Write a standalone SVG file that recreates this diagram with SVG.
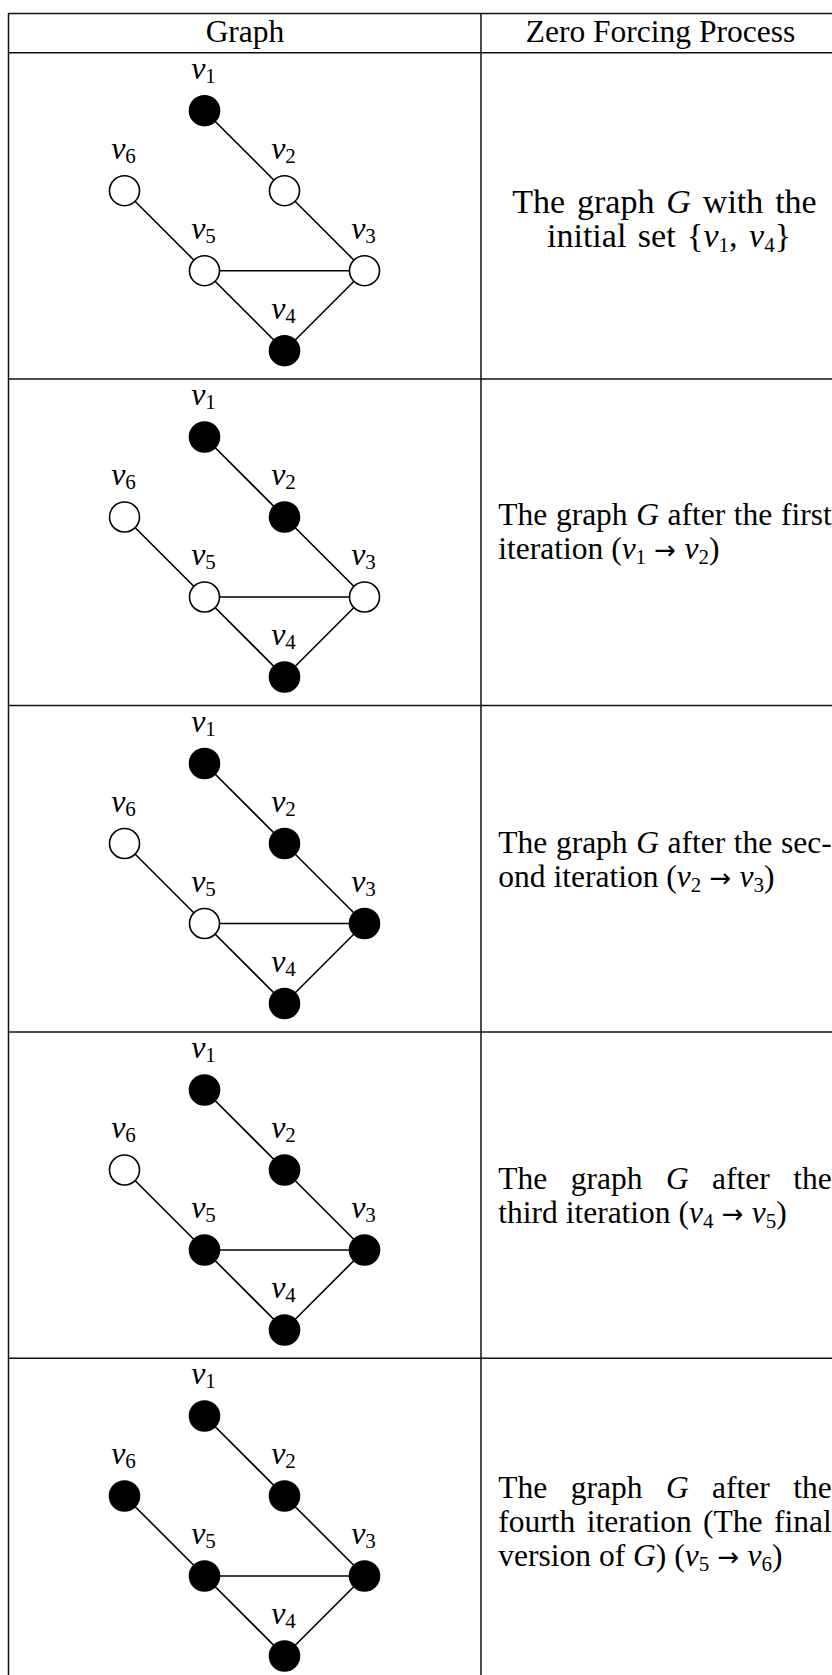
<svg xmlns="http://www.w3.org/2000/svg" width="832" height="1675" viewBox="0 0 832 1675">
<style>
.grid{stroke:#111;stroke-width:1.5;fill:none}
.edge{stroke:#000;stroke-width:1.6}
.w{fill:#fff;stroke:#000;stroke-width:1.6}
.b{fill:#000;stroke:#000;stroke-width:1.6}
.lbl{font-family:"Liberation Serif",serif;font-size:32px;text-anchor:middle}
.it{font-style:italic}
.sub{font-size:21px}
.txt{font-family:"Liberation Serif",serif;font-size:31.5px;fill:#000}
.big{font-size:34px}
.mid{text-anchor:middle}
.end{text-anchor:end}
.arr{font-family:"DejaVu Sans",sans-serif;font-size:26px}
</style>
<rect width="832" height="1675" fill="#fff"/>
<g id="table" class="grid">
<line x1="8.5" y1="13.5" x2="832" y2="13.5"/>
<line x1="8.5" y1="52.7" x2="832" y2="52.7"/>
<line x1="8.5" y1="379" x2="832" y2="379"/>
<line x1="8.5" y1="705.5" x2="832" y2="705.5"/>
<line x1="8.5" y1="1032" x2="832" y2="1032"/>
<line x1="8.5" y1="1358.3" x2="832" y2="1358.3"/>
<line x1="8.5" y1="13" x2="8.5" y2="1675"/>
<line x1="481" y1="13" x2="481" y2="1675"/>
</g>
<g id="header">
<text class="txt mid" x="245" y="42">Graph</text>
<text class="txt mid" x="660.5" y="42">Zero Forcing Process</text>
</g>
<g id="connectors">
<g transform="translate(0,0)">
<line class="edge" x1="204.5" y1="110.7" x2="284.5" y2="190.7"/>
<line class="edge" x1="284.5" y1="190.7" x2="364.5" y2="270.7"/>
<line class="edge" x1="124.5" y1="190.7" x2="204.5" y2="270.7"/>
<line class="edge" x1="204.5" y1="270.7" x2="364.5" y2="270.7"/>
<line class="edge" x1="204.5" y1="270.7" x2="284.5" y2="350.7"/>
<line class="edge" x1="284.5" y1="350.7" x2="364.5" y2="270.7"/>
</g>
<g transform="translate(0,326.3)">
<line class="edge" x1="204.5" y1="110.7" x2="284.5" y2="190.7"/>
<line class="edge" x1="284.5" y1="190.7" x2="364.5" y2="270.7"/>
<line class="edge" x1="124.5" y1="190.7" x2="204.5" y2="270.7"/>
<line class="edge" x1="204.5" y1="270.7" x2="364.5" y2="270.7"/>
<line class="edge" x1="204.5" y1="270.7" x2="284.5" y2="350.7"/>
<line class="edge" x1="284.5" y1="350.7" x2="364.5" y2="270.7"/>
</g>
<g transform="translate(0,652.8)">
<line class="edge" x1="204.5" y1="110.7" x2="284.5" y2="190.7"/>
<line class="edge" x1="284.5" y1="190.7" x2="364.5" y2="270.7"/>
<line class="edge" x1="124.5" y1="190.7" x2="204.5" y2="270.7"/>
<line class="edge" x1="204.5" y1="270.7" x2="364.5" y2="270.7"/>
<line class="edge" x1="204.5" y1="270.7" x2="284.5" y2="350.7"/>
<line class="edge" x1="284.5" y1="350.7" x2="364.5" y2="270.7"/>
</g>
<g transform="translate(0,979.3)">
<line class="edge" x1="204.5" y1="110.7" x2="284.5" y2="190.7"/>
<line class="edge" x1="284.5" y1="190.7" x2="364.5" y2="270.7"/>
<line class="edge" x1="124.5" y1="190.7" x2="204.5" y2="270.7"/>
<line class="edge" x1="204.5" y1="270.7" x2="364.5" y2="270.7"/>
<line class="edge" x1="204.5" y1="270.7" x2="284.5" y2="350.7"/>
<line class="edge" x1="284.5" y1="350.7" x2="364.5" y2="270.7"/>
</g>
<g transform="translate(0,1305.3)">
<line class="edge" x1="204.5" y1="110.7" x2="284.5" y2="190.7"/>
<line class="edge" x1="284.5" y1="190.7" x2="364.5" y2="270.7"/>
<line class="edge" x1="124.5" y1="190.7" x2="204.5" y2="270.7"/>
<line class="edge" x1="204.5" y1="270.7" x2="364.5" y2="270.7"/>
<line class="edge" x1="204.5" y1="270.7" x2="284.5" y2="350.7"/>
<line class="edge" x1="284.5" y1="350.7" x2="364.5" y2="270.7"/>
</g>
</g>
<g transform="translate(0,0)">
<g id="r1-v1"><circle class="b" cx="204.5" cy="110.7" r="15"/><text class="lbl" x="203.5" y="79.2"><tspan class="it">v</tspan><tspan class="sub" dy="4">1</tspan></text></g>
<g id="r1-v2"><circle class="w" cx="284.5" cy="190.7" r="15"/><text class="lbl" x="283.5" y="159.2"><tspan class="it">v</tspan><tspan class="sub" dy="4">2</tspan></text></g>
<g id="r1-v3"><circle class="w" cx="364.5" cy="270.7" r="15"/><text class="lbl" x="363.5" y="239.2"><tspan class="it">v</tspan><tspan class="sub" dy="4">3</tspan></text></g>
<g id="r1-v4"><circle class="b" cx="284.5" cy="350.7" r="15"/><text class="lbl" x="283.5" y="319.2"><tspan class="it">v</tspan><tspan class="sub" dy="4">4</tspan></text></g>
<g id="r1-v5"><circle class="w" cx="204.5" cy="270.7" r="15"/><text class="lbl" x="203.5" y="239.2"><tspan class="it">v</tspan><tspan class="sub" dy="4">5</tspan></text></g>
<g id="r1-v6"><circle class="w" cx="124.5" cy="190.7" r="15"/><text class="lbl" x="123.5" y="159.2"><tspan class="it">v</tspan><tspan class="sub" dy="4">6</tspan></text></g>
</g>
<g transform="translate(0,326.3)">
<g id="r2-v1"><circle class="b" cx="204.5" cy="110.7" r="15"/><text class="lbl" x="203.5" y="79.2"><tspan class="it">v</tspan><tspan class="sub" dy="4">1</tspan></text></g>
<g id="r2-v2"><circle class="b" cx="284.5" cy="190.7" r="15"/><text class="lbl" x="283.5" y="159.2"><tspan class="it">v</tspan><tspan class="sub" dy="4">2</tspan></text></g>
<g id="r2-v3"><circle class="w" cx="364.5" cy="270.7" r="15"/><text class="lbl" x="363.5" y="239.2"><tspan class="it">v</tspan><tspan class="sub" dy="4">3</tspan></text></g>
<g id="r2-v4"><circle class="b" cx="284.5" cy="350.7" r="15"/><text class="lbl" x="283.5" y="319.2"><tspan class="it">v</tspan><tspan class="sub" dy="4">4</tspan></text></g>
<g id="r2-v5"><circle class="w" cx="204.5" cy="270.7" r="15"/><text class="lbl" x="203.5" y="239.2"><tspan class="it">v</tspan><tspan class="sub" dy="4">5</tspan></text></g>
<g id="r2-v6"><circle class="w" cx="124.5" cy="190.7" r="15"/><text class="lbl" x="123.5" y="159.2"><tspan class="it">v</tspan><tspan class="sub" dy="4">6</tspan></text></g>
</g>
<g transform="translate(0,652.8)">
<g id="r3-v1"><circle class="b" cx="204.5" cy="110.7" r="15"/><text class="lbl" x="203.5" y="79.2"><tspan class="it">v</tspan><tspan class="sub" dy="4">1</tspan></text></g>
<g id="r3-v2"><circle class="b" cx="284.5" cy="190.7" r="15"/><text class="lbl" x="283.5" y="159.2"><tspan class="it">v</tspan><tspan class="sub" dy="4">2</tspan></text></g>
<g id="r3-v3"><circle class="b" cx="364.5" cy="270.7" r="15"/><text class="lbl" x="363.5" y="239.2"><tspan class="it">v</tspan><tspan class="sub" dy="4">3</tspan></text></g>
<g id="r3-v4"><circle class="b" cx="284.5" cy="350.7" r="15"/><text class="lbl" x="283.5" y="319.2"><tspan class="it">v</tspan><tspan class="sub" dy="4">4</tspan></text></g>
<g id="r3-v5"><circle class="w" cx="204.5" cy="270.7" r="15"/><text class="lbl" x="203.5" y="239.2"><tspan class="it">v</tspan><tspan class="sub" dy="4">5</tspan></text></g>
<g id="r3-v6"><circle class="w" cx="124.5" cy="190.7" r="15"/><text class="lbl" x="123.5" y="159.2"><tspan class="it">v</tspan><tspan class="sub" dy="4">6</tspan></text></g>
</g>
<g transform="translate(0,979.3)">
<g id="r4-v1"><circle class="b" cx="204.5" cy="110.7" r="15"/><text class="lbl" x="203.5" y="79.2"><tspan class="it">v</tspan><tspan class="sub" dy="4">1</tspan></text></g>
<g id="r4-v2"><circle class="b" cx="284.5" cy="190.7" r="15"/><text class="lbl" x="283.5" y="159.2"><tspan class="it">v</tspan><tspan class="sub" dy="4">2</tspan></text></g>
<g id="r4-v3"><circle class="b" cx="364.5" cy="270.7" r="15"/><text class="lbl" x="363.5" y="239.2"><tspan class="it">v</tspan><tspan class="sub" dy="4">3</tspan></text></g>
<g id="r4-v4"><circle class="b" cx="284.5" cy="350.7" r="15"/><text class="lbl" x="283.5" y="319.2"><tspan class="it">v</tspan><tspan class="sub" dy="4">4</tspan></text></g>
<g id="r4-v5"><circle class="b" cx="204.5" cy="270.7" r="15"/><text class="lbl" x="203.5" y="239.2"><tspan class="it">v</tspan><tspan class="sub" dy="4">5</tspan></text></g>
<g id="r4-v6"><circle class="w" cx="124.5" cy="190.7" r="15"/><text class="lbl" x="123.5" y="159.2"><tspan class="it">v</tspan><tspan class="sub" dy="4">6</tspan></text></g>
</g>
<g transform="translate(0,1305.3)">
<g id="r5-v1"><circle class="b" cx="204.5" cy="110.7" r="15"/><text class="lbl" x="203.5" y="79.2"><tspan class="it">v</tspan><tspan class="sub" dy="4">1</tspan></text></g>
<g id="r5-v2"><circle class="b" cx="284.5" cy="190.7" r="15"/><text class="lbl" x="283.5" y="159.2"><tspan class="it">v</tspan><tspan class="sub" dy="4">2</tspan></text></g>
<g id="r5-v3"><circle class="b" cx="364.5" cy="270.7" r="15"/><text class="lbl" x="363.5" y="239.2"><tspan class="it">v</tspan><tspan class="sub" dy="4">3</tspan></text></g>
<g id="r5-v4"><circle class="b" cx="284.5" cy="350.7" r="15"/><text class="lbl" x="283.5" y="319.2"><tspan class="it">v</tspan><tspan class="sub" dy="4">4</tspan></text></g>
<g id="r5-v5"><circle class="b" cx="204.5" cy="270.7" r="15"/><text class="lbl" x="203.5" y="239.2"><tspan class="it">v</tspan><tspan class="sub" dy="4">5</tspan></text></g>
<g id="r5-v6"><circle class="b" cx="124.5" cy="190.7" r="15"/><text class="lbl" x="123.5" y="159.2"><tspan class="it">v</tspan><tspan class="sub" dy="4">6</tspan></text></g>
</g>
<g id="desc1" class="txt">
<text class="mid big" x="664.5" y="213" word-spacing="3.4">The graph <tspan class="it">G</tspan> with the</text>
<text class="mid big" x="669" y="247" word-spacing="3">initial set {<tspan class="it">v</tspan><tspan class="sub" dy="5">1</tspan><tspan dy="-5">, </tspan><tspan class="it">v</tspan><tspan class="sub" dy="5">4</tspan><tspan dy="-5">}</tspan></text>
</g>
<g id="desc2" class="txt">
<text y="525"><tspan x="498.3">The</tspan><tspan x="555.9">graph</tspan><tspan x="636.2" class="it">G</tspan><tspan x="667.5">after</tspan><tspan x="733.8">the</tspan></text>
<text class="end" x="831.7" y="525">first</text>
<text x="498.3" y="559">iteration (<tspan class="it">v</tspan><tspan class="sub" dy="5">1</tspan><tspan dy="-5" class="arr"> → </tspan><tspan class="it">v</tspan><tspan class="sub" dy="5">2</tspan><tspan dy="-5">)</tspan></text>
</g>
<g id="desc3" class="txt">
<text y="853"><tspan x="498.3">The</tspan><tspan x="555.9">graph</tspan><tspan x="636.2" class="it">G</tspan><tspan x="667.5">after</tspan><tspan x="733.8">the</tspan></text>
<text class="end" x="831.7" y="853">sec-</text>
<text x="498.3" y="887">ond iteration (<tspan class="it">v</tspan><tspan class="sub" dy="5">2</tspan><tspan dy="-5" class="arr"> → </tspan><tspan class="it">v</tspan><tspan class="sub" dy="5">3</tspan><tspan dy="-5">)</tspan></text>
</g>
<g id="desc4" class="txt">
<text y="1189"><tspan x="498.3">The</tspan><tspan x="570.8">graph</tspan><tspan x="665.9" class="it">G</tspan><tspan x="712.1">after</tspan></text>
<text class="end" x="831.7" y="1189">the</text>
<text x="498.3" y="1223">third iteration (<tspan class="it">v</tspan><tspan class="sub" dy="5">4</tspan><tspan dy="-5" class="arr"> → </tspan><tspan class="it">v</tspan><tspan class="sub" dy="5">5</tspan><tspan dy="-5">)</tspan></text>
</g>
<g id="desc5" class="txt">
<text y="1498"><tspan x="498.3">The</tspan><tspan x="570.8">graph</tspan><tspan x="665.9" class="it">G</tspan><tspan x="712.1">after</tspan></text>
<text class="end" x="831.7" y="1498">the</text>
<text y="1532"><tspan x="498.3">fourth</tspan><tspan x="586.7">iteration</tspan><tspan x="703.1">(The</tspan></text>
<text class="end" x="831.7" y="1532">final</text>
<text x="498.3" y="1566">version of <tspan class="it">G</tspan>) (<tspan class="it">v</tspan><tspan class="sub" dy="5">5</tspan><tspan dy="-5" class="arr"> → </tspan><tspan class="it">v</tspan><tspan class="sub" dy="5">6</tspan><tspan dy="-5">)</tspan></text>
</g>
</svg>
